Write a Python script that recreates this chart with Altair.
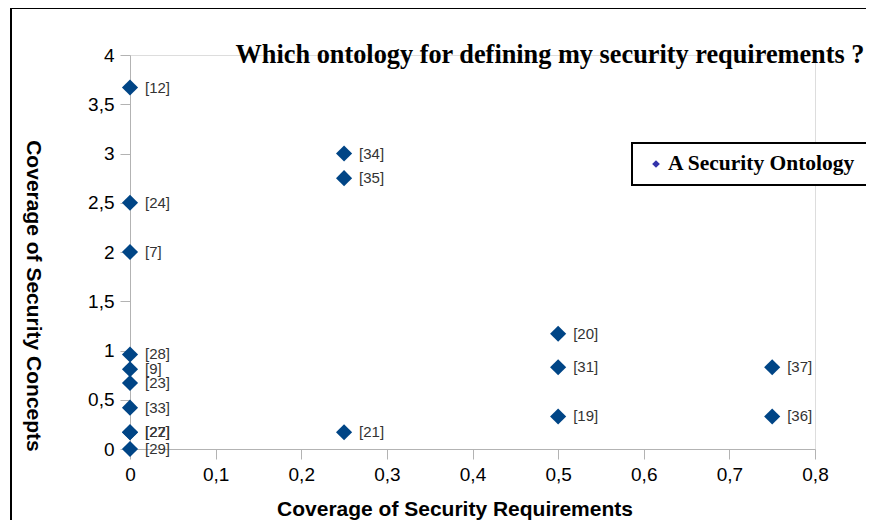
import altair as alt
import pandas as pd

refs = ["[12]", "[34]", "[35]", "[24]", "[7]", "[20]", "[28]", "[9]", "[31]", "[37]",
        "[23]", "[33]", "[19]", "[36]", "[22]", "[27]", "[21]", "[29]"]
req = [0, 0.25, 0.25, 0, 0, 0.5, 0, 0, 0.5, 0.75,
       0, 0, 0.5, 0.75, 0, 0, 0.25, 0]
concepts = [3.67, 3.0, 2.75, 2.5, 2.0, 1.17, 0.96, 0.81, 0.83, 0.83,
            0.67, 0.42, 0.33, 0.33, 0.17, 0.17, 0.17, 0.0]

title_text = "Which ontology for defining my security requirements ?"
legend_label = "A Security Ontology"
x_title = "Coverage of Security Requirements"
y_title = "Coverage of Security Concepts"

df = pd.DataFrame({"ref": refs, "req": req, "concepts": concepts})

W, H = 685, 394
blue = "#004586"

xs = alt.X("req:Q", scale=alt.Scale(domain=[0, 0.8], nice=False, zero=False),
           axis=alt.Axis(values=[0, 0.1, 0.2, 0.3, 0.4, 0.5, 0.6, 0.7, 0.8],
                         labelExpr="replace(format(datum.value, '.1~f'), '.', ',')",
                         grid=False, domainColor="#b3b3b3", tickColor="#b3b3b3",
                         tickSize=10, labelFont="Liberation Sans", labelFontSize=19,
                         labelColor="#000000", labelPadding=6, labelFlush=False,
                         title=None))
ys = alt.Y("concepts:Q", scale=alt.Scale(domain=[0, 4], nice=False, zero=False),
           axis=alt.Axis(values=[0, 0.5, 1, 1.5, 2, 2.5, 3, 3.5, 4],
                         labelExpr="replace(format(datum.value, '.1~f'), '.', ',')",
                         grid=False, domainColor="#b3b3b3", tickColor="#b3b3b3",
                         tickSize=10, labelFont="Liberation Sans", labelFontSize=19,
                         labelColor="#000000", labelPadding=6, labelFlush=False,
                         title=None))

points = alt.Chart(df).mark_point(shape="diamond", filled=True, size=260,
                                  color=blue, opacity=1, clip=False).encode(x=xs, y=ys)
labels = alt.Chart(df).mark_text(align="left", baseline="middle", dx=15,
                                 font="Liberation Sans", fontSize=15,
                                 color="#333333", clip=False).encode(
    x="req:Q", y="concepts:Q", text="ref:N")

one = pd.DataFrame({"a": [0]})
frame_top = alt.Chart(one).mark_rule(stroke="#000000", strokeWidth=2, clip=False).encode(
    x=alt.value(-119), x2=alt.value(W + 120), y=alt.value(-47))
frame_left = alt.Chart(one).mark_rule(stroke="#000000", strokeWidth=2, clip=False).encode(
    x=alt.value(-119), y=alt.value(-48), y2=alt.value(H + 120))

title = alt.Chart(pd.DataFrame({"t": [title_text]})).mark_text(
    font="Liberation Serif", fontSize=26.3, fontWeight="bold", color="#000000",
    align="center", baseline="middle", clip=False).encode(
    x=alt.value(420), y=alt.value(0), text="t:N")

xt = alt.Chart(pd.DataFrame({"t": [x_title]})).mark_text(
    font="Liberation Sans", fontSize=21, fontWeight="bold", color="#000000",
    align="center", baseline="middle", clip=False).encode(
    x=alt.value(325), y=alt.value(455), text="t:N")
yt = alt.Chart(pd.DataFrame({"t": [y_title]})).mark_text(
    font="Liberation Sans", fontSize=21, fontWeight="bold", color="#000000",
    align="center", baseline="middle", angle=90, clip=False).encode(
    x=alt.value(-97), y=alt.value(241), text="t:N")

legend_box = alt.Chart(one).mark_rect(
    fill="#ffffff", stroke="#000000", strokeWidth=2, clip=False).encode(
    x=alt.value(502), x2=alt.value(742), y=alt.value(88), y2=alt.value(130))
legend_sym = alt.Chart(one).mark_point(
    shape="diamond", filled=True, size=60, color="#3333aa", opacity=1, clip=False).encode(
    x=alt.value(526), y=alt.value(109))
legend_txt = alt.Chart(pd.DataFrame({"t": [legend_label]})).mark_text(
    font="Liberation Serif", fontSize=21.5, fontWeight="bold", color="#000000",
    align="left", baseline="middle", clip=False).encode(
    x=alt.value(538), y=alt.value(109), text="t:N")

chart = alt.layer(frame_top, frame_left, points, labels, title, xt, yt,
                  legend_box, legend_sym, legend_txt).properties(
    width=W, height=H,
    autosize=alt.AutoSizeParams(type="none"),
    padding={"left": 122, "top": 47, "right": 51, "bottom": 71},
).configure_view(stroke=None).configure(background="#ffffff")

chart.save("out.html", embed_options={"renderer": "svg", "actions": False})
